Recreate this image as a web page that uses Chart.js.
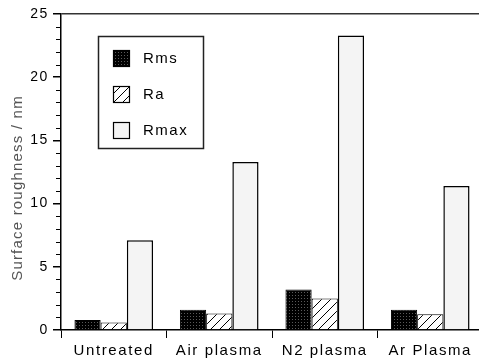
<!DOCTYPE html>
<html>
<head>
<meta charset="utf-8">
<script src="https://cdn.jsdelivr.net/npm/chart.js@4/dist/chart.umd.min.js"></script>
<style>
  html, body { margin: 0; padding: 0; background: #fff; overflow: hidden; }
  #wrap { width: 483px; height: 362px; }
</style>
</head>
<body>
<div id="wrap"><canvas id="roughChart"></canvas></div>
<script>
// --- data ---
const categories = ['Untreated', 'Air plasma', 'N2 plasma', 'Ar Plasma'];
const seriesNames = ['Rms', 'Ra', 'Rmax'];
const rmsValues = [0.8, 1.6, 3.2, 1.6];
const raValues = [0.6, 1.3, 2.5, 1.25];
const rmaxValues = [7.1, 13.3, 23.3, 11.4];
const yMin = 0, yMax = 25, yMajorStep = 5, yMinorStep = 1;
const yTitle = 'Surface roughness / nm';

const FONT = '"Liberation Sans", Arial, sans-serif';

// --- fill patterns ---
function dotPattern() {
    const c = document.createElement('canvas');
    c.width = 3; c.height = 3;
    const g = c.getContext('2d');
    g.fillStyle = '#000'; g.fillRect(0, 0, 3, 3);
    g.fillStyle = '#5a5a5a'; g.fillRect(1, 1, 1, 1);
    return g.createPattern(c, 'repeat');
}
function hatchPattern() {
    const s = 9;
    const c = document.createElement('canvas');
    c.width = s; c.height = s;
    const g = c.getContext('2d');
    g.fillStyle = '#fff'; g.fillRect(0, 0, s, s);
    g.strokeStyle = '#000'; g.lineWidth = 1;
    g.beginPath();
    g.moveTo(0, s); g.lineTo(s, 0);
    g.moveTo(-1, 1); g.lineTo(1, -1);
    g.moveTo(s - 1, s + 1); g.lineTo(s + 1, s - 1);
    g.stroke();
    return g.createPattern(c, 'repeat');
}
const fills = [dotPattern(), hatchPattern(), '#f4f4f4'];

// --- plugins: minor ticks, y title, boxed legend inside plot ---
const extras = {
    id: 'extras',
    beforeDraw(chart) {
        chart.ctx.letterSpacing = '1.6px';
    },
    afterDraw(chart) {
        const ctx = chart.ctx;
        const ys = chart.scales.y;
        const area = chart.chartArea;
        ctx.save();
        ctx.strokeStyle = '#000';
        ctx.lineWidth = 1;
        for (let v = yMin; v <= yMax; v += yMinorStep) {
            if (v % yMajorStep === 0) continue;
            const py = Math.round(ys.getPixelForValue(v)) + 0.5;
            ctx.beginPath();
            ctx.moveTo(area.left - 5, py);
            ctx.lineTo(area.left, py);
            ctx.stroke();
        }

        // y axis title (a bit below the axis centre, as in the original)
        ctx.save();
        ctx.translate(18, 188);
        ctx.rotate(-Math.PI / 2);
        ctx.font = '15px ' + FONT;
        ctx.letterSpacing = '1.2px';
        ctx.fillStyle = '#555';
        ctx.textAlign = 'center';
        ctx.textBaseline = 'middle';
        ctx.fillText(yTitle, 0, 0);
        ctx.restore();

        // legend box
        const bx = area.left + 37.5, by = area.top + 22.5;
        ctx.fillStyle = '#fff';
        ctx.fillRect(bx, by, 105, 112);
        ctx.lineWidth = 1.5;
        ctx.strokeStyle = '#222';
        ctx.strokeRect(bx, by, 105, 112);
        ctx.font = '15px ' + FONT;
        ctx.letterSpacing = '1.5px';
        ctx.textBaseline = 'middle';
        chart.data.datasets.forEach((ds, i) => {
            const sy = area.top + 36 + i * 36;
            const sx = area.left + 52;
            ctx.fillStyle = ds.backgroundColor;
            ctx.fillRect(sx, sy, 17, 17);
            ctx.lineWidth = 1.2;
            ctx.strokeStyle = '#000';
            ctx.strokeRect(sx + 0.5, sy + 0.5, 16, 16);
            ctx.fillStyle = '#000';
            ctx.fillText(ds.label, area.left + 82, sy + 9);
        });
        ctx.restore();
    }
};

const ctx = document.getElementById('roughChart').getContext('2d');
const roughChart = new Chart(ctx, {
    type: 'bar',
    data: {
        labels: categories,
        datasets: [rmsValues, raValues, rmaxValues].map((vals, i) => ({
            label: seriesNames[i],
            data: vals,
            backgroundColor: fills[i],
            borderColor: '#000',
            borderWidth: i === 2 ? 1.5 : 1,
            categoryPercentage: 0.745,
            barPercentage: 1
        }))
    },
    options: {
        responsive: true,
        maintainAspectRatio: false,
        animation: false,
        devicePixelRatio: 1,
        layout: { padding: { top: 14, right: 0, left: 0, bottom: 0 } },
        plugins: {
            legend: { display: false },
            tooltip: { enabled: false }
        },
        scales: {
            x: {
                grid: {
                    offset: true,
                    drawOnChartArea: false,
                    tickLength: 8,
                    color: '#000',
                    lineWidth: 1
                },
                border: { color: '#000', width: 1.5 },
                ticks: {
                    color: '#000',
                    padding: 4,
                    font: { family: FONT, size: 15 },
                    maxRotation: 0
                },
                afterFit: s => { s.height = 32; }
            },
            y: {
                min: yMin,
                max: yMax,
                ticks: {
                    stepSize: yMajorStep,
                    color: '#000',
                    padding: 4,
                    font: { family: FONT, size: 14 }
                },
                grid: {
                    tickLength: 8,
                    tickColor: '#000',
                    color: c => (c.tick && c.tick.value === yMax) ? '#333' : 'rgba(0,0,0,0)',
                    lineWidth: 1.5
                },
                border: { color: '#000', width: 1.5 },
                title: { display: false },
                afterFit: s => { s.width = 61; }
            }
        }
    },
    plugins: [extras]
});
</script>
</body>
</html>
